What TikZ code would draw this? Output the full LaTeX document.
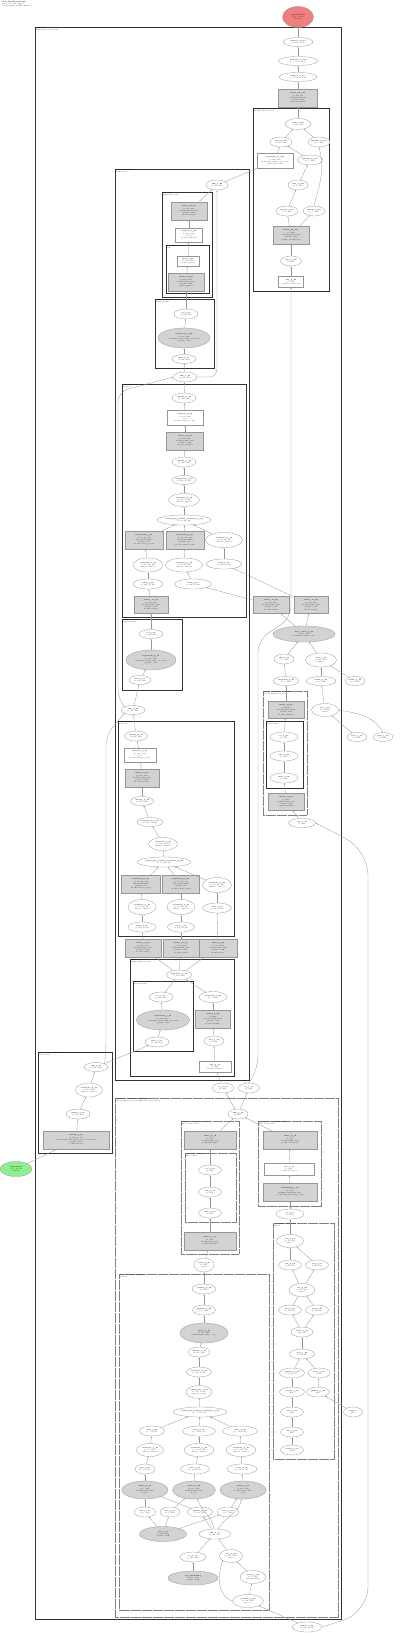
\documentclass[tikz,border=0pt]{standalone}
\usepackage{tikz}
\usetikzlibrary{shapes.geometric,arrows.meta}
\definecolor{edgegray}{RGB}{150,150,150}
\definecolor{modgray}{RGB}{211,211,211}
\definecolor{outred}{RGB}{240,128,128}
\definecolor{ingreen}{RGB}{144,238,144}
\newcommand{\nf}{\fontsize{1.5}{2.3}\selectfont}
\newcommand{\cf}{\fontsize{1.4}{1.8}\selectfont}

\begin{document}
\begin{tikzpicture}[
    x=1pt, y=-1pt,
    >={Stealth[length=1.5pt,width=1.2pt]},
    el/.style 2 args={ellipse, draw=edgegray, fill=white, line width=0.3pt, inner sep=0pt, align=center, font=\nf, minimum width=#1, minimum height=#2},
    gel/.style 2 args={el={#1}{#2}, fill=modgray},
    gbox/.style 2 args={rectangle, draw=edgegray, fill=modgray, line width=0.3pt, inner sep=0pt, align=center, font=\nf, minimum width=#1, minimum height=#2},
    wbox/.style 2 args={gbox={#1}{#2}, fill=white},
    clus/.style={draw=black!80, line width=0.42pt},
    dclus/.style={draw=black!50, line width=0.35pt, dash pattern=on 0.7pt off 0.4pt},
    clab/.style={anchor=north west, align=left, font=\cf, inner sep=0.6pt},
    arrow/.style={->, draw=edgegray, line width=0.3pt},
    elab/.style={font=\fontsize{1.2}{1.4}\selectfont, inner sep=0pt}
]
    \useasboundingbox (0,0) rectangle (400,1634);
    \node[anchor=north west, align=left, inner sep=0pt, font=\fontsize{1.6}{2.2}\selectfont] (title) at (2,1)
        {\textbf{DiT/TorchViewGraph}\\131 nodes, 154 edges\\total params: 34.6M, depth: 3};

    % Clusters
    \draw[clus, line width=0.7pt] (35,27) rectangle (341,1619);
    \node[clab] (lab_model) at (35,27) {\textbf{model: DiT}\\DiT(depth=2, hidden=768)};
    \draw[clus] (253,108) rectangle (329,291);
    \node[clab] (lab_final) at (253,108) {\textbf{final\_layer: FinalLayer}\\FinalLayer(hidden=768)};
    \draw[clus] (115,169) rectangle (249,1080);
    \node[clab] (lab_blocks) at (115,169) {\textbf{blocks: ModuleList}\\DiTBlock x 2};
    \draw[clus] (162,192) rectangle (212,297);
    \node[clab] (lab_mlp) at (162,192) {\textbf{mlp: Mlp}\\Mlp(hidden=3072)};
    \draw[clus] (166,245) rectangle (209,293);
    \node[clab] (lab_act) at (166,245) {\textbf{act: GELU}\\tanh};
    \draw[clus] (155,299) rectangle (214,368);
    \node[clab] (lab_norm2) at (155,299) {\textbf{norm2: LayerNorm}\\LayerNorm(768)};
    \draw[clus] (122,384) rectangle (246,617);
    \node[clab] (lab_attn1) at (122,384) {\textbf{attn: Attention}\\heads=12};
    \draw[clus] (122,619) rectangle (182,690);
    \node[clab] (lab_norm1) at (122,619) {\textbf{norm1: LayerNorm}\\LayerNorm(768)};
    \draw[clus] (118,721) rectangle (234,936);
    \node[clab] (lab_attn0) at (118,721) {\textbf{attn: Attention}\\heads=12};
    \draw[clus] (130,959) rectangle (234,1076);
    \node[clab] (lab_block0) at (130,959) {\textbf{blocks.0: DiTBlock}\\DiTBlock(hidden=768)};
    \draw[clus] (133,981) rectangle (193,1051);
    \node[clab] (lab_norm0) at (133,981) {\textbf{norm1: LayerNorm}\\LayerNorm(768)};
    \draw[clus] (38,1052) rectangle (112,1153);
    \node[clab] (lab_xemb) at (38,1052) {\textbf{x\_embedder: PatchEmbed}\\patch\_size=2};
    \draw[dclus] (263,691) rectangle (307,815);
    \node[clab] (lab_ada) at (263,691) {\textbf{adaLN\_modulation: Sequential}\\Sequential(SiLU, Linear)};
    \draw[clus, line width=0.38pt] (266,721) rectangle (303,788);
    \node[clab] (lab_silu) at (266,721) {\textbf{0: SiLU}\\inplace=False};
    \draw[dclus] (115,1098) rectangle (338,1617);
    \node[clab] (lab_emb) at (115,1098) {\textbf{embedders: TimestepLabelEmbedder}\\TimestepEmbedder + LabelEmbedder (dropout=0.1)};
    \draw[dclus] (181,1121) rectangle (239,1254);
    \node[clab] (lab_tmlp) at (181,1121) {\textbf{t\_embedder.mlp: Sequential}\\Linear, SiLU, Linear};
    \draw[dclus] (185,1153) rectangle (236,1222);
    \node[clab] (lab_tsilu) at (185,1153) {\textbf{t\_embedder.mlp.1: SiLU}\\inplace=False};
    \draw[dclus] (258,1121) rectangle (321,1206);
    \node[clab] (lab_yemb) at (258,1121) {\textbf{y\_embedder: LabelEmbedder}\\num\_classes=1000};
    \draw[dclus] (119,1274) rectangle (269,1610);
    \node[clab] (lab_pool) at (119,1274) {\textbf{pos\_attn: AttentionPool}\\heads=8};
    \draw[dclus] (273,1223) rectangle (334,1459);
    \node[clab] (lab_rope) at (273,1223) {\textbf{rope: RotaryEmbedding}\\dim=96};

    % Output head
    \node[gel={31}{21}, fill=outred] (out) at (298,17) {\textbf{output-tensor}\\(1, 4, 32, 32)\\float32};
    \node[el={30}{9}] (n_resh1) at (298,42) {\textbf{reshape\_4\_113}\\(1, 4, 16, 16, 2)};
    \node[el={39}{9}] (n_view1) at (298,61) {\textbf{permute\_1\_112}\\(1, 4, 16, 2, 16, 2)};
    \node[el={38}{9}] (n_resh2) at (298,77) {\textbf{reshape\_3\_111}\\(1, 16, 16, 2, 2, 4)};
    \node[gbox={39}{18}] (n_lin1) at (298,98) {\textbf{linear\_22\_110}\\(1, 256, 16)\\nn.Linear(768, 16)\\params: 12K\\final\_layer.linear};
    \node[el={26}{11}] (n_add1) at (298,124) {\textbf{add\_5\_109}\\(1, 256, 768)};
    \node[el={22}{10}] (n_mul1) at (281,142) {\textbf{mul\_8\_108}\\(1, 256, 768)};
    \node[el={22}{10}] (n_get1) at (319,142) {\textbf{getitem\_9\_107}\\(1, 1, 768)};
    \node[wbox={36}{15}] (n_ln1) at (275,161) {\textbf{layernorm\_8\_106}\\(1, 256, 768)\\nn.LayerNorm(768, eps=1e-06)\\final\_layer.norm};
    \node[el={25}{10}] (n_get2) at (310,160) {\textbf{getitem\_8\_105}\\(1, 1, 768)};
    \node[el={20}{10}] (n_mul2) at (298,185) {\textbf{add\_4\_104}\\(1, 1, 768)};
    \node[el={22}{10}] (n_chk1) at (287,211) {\textbf{chunk\_2\_103}\\(1, 1, 768)};
    \node[el={22}{10}] (n_chk2) at (314,211) {\textbf{chunk\_2\_102}\\(1, 1, 768)};
    \node[gbox={36}{18}] (n_lin2) at (291,235) {\textbf{linear\_21\_101}\\(1, 1536)\\nn.Linear(768, 1536)\\params: 1.2M\\adaLN\_modulation.1};
    \node[el={21}{10}] (n_to1) at (291,261) {\textbf{silu\_5\_100}\\(1, 768)};
    \node[wbox={25}{11}] (n_in1) at (291,282) {\textbf{silu\_4\_99}\\(1, 768)\\adaLN\_modulation.0};

    % Block 1: mlp and norm2
    \node[el={22}{10}] (n_add2) at (217,185) {\textbf{add\_3\_98}\\(1, 256, 768)};
    \node[gbox={36}{18}] (n_lin3) at (189,211) {\textbf{linear\_20\_97}\\(1, 256, 768)\\nn.Linear(3072, 768)\\params: 2.4M\\blocks.1.mlp.fc2};
    \node[wbox={27}{14}] (n_drop1) at (189,235) {\textbf{dropout\_5\_96}\\(1, 256, 3072)\\p=0.0\\blocks.1.mlp.drop};
    \node[wbox={22}{10}] (n_gelu) at (188,261) {\textbf{gelu\_1\_95}\\(1, 256, 3072)\\blocks.1.mlp.act};
    \node[gbox={36}{18}] (n_lin4) at (186,282) {\textbf{linear\_19\_94}\\(1, 256, 3072)\\nn.Linear(768, 3072)\\params: 2.4M\\blocks.1.mlp.fc1};
    \node[el={24}{10}] (n_to2) at (186,314) {\textbf{to\_6\_93}\\(1, 256, 768)};
    \node[gel={52}{20}] (n_ln2) at (184,338) {\textbf{layernorm\_7\_92}\\(1, 256, 768)\\normalized\_shape=768, eps=1e-06\\params: 1.5K};
    \node[el={24}{9}] (n_fl2) at (184,359) {\textbf{float\_6\_91}\\(1, 256, 768)};
    \node[el={24}{10}] (n_add3) at (185,377) {\textbf{add\_2\_90}\\(1, 256, 768)};

    % Block 1: attention
    \node[el={24}{10}] (n_resh3) at (184,398) {\textbf{reshape\_2\_89}\\(1, 256, 768)};
    \node[wbox={36}{15}] (n_drop2) at (185,418) {\textbf{dropout\_4\_88}\\(1, 256, 768)\\p=0.0\\blocks.1.attn.proj\_drop};
    \node[gbox={37}{18}] (n_lin5) at (185,441) {\textbf{linear\_18\_87}\\(1, 256, 768)\\nn.Linear(768, 768)\\params: 590K\\blocks.1.attn.proj};
    \node[el={24}{10}] (n_resh4) at (184,462) {\textbf{reshape\_1\_86}\\(1, 256, 768)};
    \node[el={24}{9}] (n_view2) at (184,480) {\textbf{contiguous\_1\_85}\\(1, 256, 12, 64)};
    \node[el={31}{13}] (n_trans1) at (184,500) {\textbf{transpose\_4\_84}\\(1, 256, 12, 64)\\dim0=1, dim1=2};
    \node[el={52}{10}] (n_sdpa1) at (184,520) {\textbf{scaled\_dot\_product\_attention\_1\_83}\\(1, 12, 256, 64)};
    \node[gbox={38}{18}] (n_view3) at (144,540) {\textbf{layernorm\_6\_82}\\(1, 12, 256, 64)\\nn.LayerNorm(64)\\params: 128\\blocks.1.attn.q\_norm};
    \node[gbox={38}{18}] (n_view4) at (185,540) {\textbf{layernorm\_5\_81}\\(1, 12, 256, 64)\\nn.LayerNorm(64)\\params: 128\\blocks.1.attn.k\_norm};
    \node[el={37}{15}] (n_tr2) at (224,540) {\textbf{transpose\_3\_80}\\(1, 12, 256, 64)\\dim0=1, dim1=2};
    \node[el={30}{14}] (n_tr3) at (148,565) {\textbf{transpose\_2\_79}\\(1, 12, 256, 64)\\dim0=1, dim1=2};
    \node[el={37}{14}] (n_tr4) at (184,565) {\textbf{transpose\_1\_78}\\(1, 12, 256, 64)\\dim0=1, dim1=2};
    \node[el={36}{10}] (n_view5) at (224,564) {\textbf{view\_6\_77}\\(1, 256, 12, 64)};
    \node[el={30}{10}] (n_view6) at (148,584) {\textbf{view\_5\_76}\\(1, 256, 12, 64)};
    \node[el={37}{10}] (n_view7) at (193,584) {\textbf{view\_4\_75}\\(1, 256, 12, 64)};
    \node[gbox={34}{17}] (n_lin6) at (151,605) {\textbf{linear\_17\_74}\\(1, 256, 768)\\nn.Linear(768, 768)\\params: 590K\\blocks.1.attn.q};
    \node[elab] (lk1) at (176,526) {key};
    \node[elab] (lv1) at (194,526) {value};

    % Block 1: norm1
    \node[el={24}{9}] (n_to3) at (151,634) {\textbf{to\_5\_73}\\(1, 256, 768)};
    \node[gel={50}{20}] (n_ln3) at (151,660) {\textbf{layernorm\_4\_72}\\(1, 256, 768)\\normalized\_shape=768, eps=1e-06\\params: 1.5K};
    \node[el={22}{9}] (n_fl3) at (140,680) {\textbf{float\_5\_71}\\(1, 256, 768)};
    \node[el={24}{9}] (n_add4) at (133,710) {\textbf{add\_1\_70}\\(1, 256, 768)};

    % Block 1: key, value and modulation
    \node[gbox={36}{17}] (n_lin22) at (271,605) {\textbf{linear\_16\_69}\\(1, 256, 768)\\nn.Linear(768, 768)\\params: 590K\\blocks.1.attn.k};
    \node[gbox={34}{17}] (n_lin23) at (311,605) {\textbf{linear\_15\_68}\\(1, 256, 768)\\nn.Linear(768, 768)\\params: 590K\\blocks.1.attn.v};
    \node[gel={62}{16}] (n_emb2) at (304,634) {\textbf{layer\_norm\_3\_67}\\(1, 256, 768)\\modulate(x, shift, scale)};
    \node[elab] (le1) at (297,644) {1};
    \node[elab] (le2) at (309,644) {0};
    \node[el={20}{10}] (n_float9) at (284,659) {\textbf{add\_9\_66}\\(1, 1, 768)};
    \node[el={31}{14}] (n_cat6) at (321,660) {\textbf{mul\_7\_65}\\(1, 256, 768)\\alpha=1};
    \node[el={26}{9}] (n_unsq2) at (286,681) {\textbf{unsqueeze\_3\_64}\\(1, 1, 768)};
    \node[el={30}{9}] (n_view22) at (321,681) {\textbf{chunk\_1\_63}\\(1, 1, 768)};
    \node[el={20}{9}] (n_sinA) at (355,681) {\textbf{chunk\_1\_62}\\(1, 1, 768)};
    \node[el={27}{13}] (n_cat7) at (325,710) {\textbf{cat\_1\_61}\\(1, 1, 4608)\\dim=1};
    \node[el={20}{9}] (n_a) at (357,737) {\textbf{split\_1\_60}\\(1, 768)};
    \node[el={20}{9}] (n_b) at (383,737) {\textbf{split\_1\_59}\\(1, 768)};
    \node[gbox={36}{17}] (n_lin20) at (286,710) {\textbf{linear\_14\_58}\\(1, 4608)\\nn.Linear(768, 4608)\\params: 3.5M\\blocks.1.adaLN.1};
    \node[el={28}{10}] (n_to11) at (284,737) {\textbf{to\_4\_57}\\(1, 768)};
    \node[el={28}{10}] (n_silu3) at (284,756) {\textbf{silu\_3\_56}\\(1, 768)};
    \node[el={28}{10}] (n_fl8) at (284,778) {\textbf{float\_4\_55}\\(1, 768)};
    \node[gbox={36}{17}] (n_lin21) at (286,802) {\textbf{linear\_13\_54}\\(1, 768)\\nn.Linear(256, 768)\\params: 197K\\t\_embedder.mlp.2};
    \node[el={27}{9}] (n_slice) at (302,823) {\textbf{silu\_2\_53}\\(1, 768)};

    % Block 0: attention
    \node[el={23}{10}] (n_resh5) at (136,736) {\textbf{reshape\_0\_52}\\(1, 256, 768)};
    \node[wbox={32}{14}] (n_drop3) at (140,755) {\textbf{dropout\_3\_51}\\(1, 256, 768)\\p=0.0\\blocks.0.attn.proj\_drop};
    \node[gbox={34}{18}] (n_lin7) at (142,778) {\textbf{linear\_12\_50}\\(1, 256, 768)\\nn.Linear(768, 768)\\params: 590K\\blocks.0.attn.proj};
    \node[el={23}{9}] (n_resh6) at (142,801) {\textbf{reshape\_0\_49}\\(1, 256, 768)};
    \node[el={26}{9}] (n_view8) at (150,822) {\textbf{contiguous\_0\_48}\\(1, 256, 12, 64)};
    \node[el={29}{13}] (n_tr5) at (163,844) {\textbf{transpose\_0\_47}\\(1, 256, 12, 64)\\dim0=1, dim1=2};
    \node[el={52}{10}] (n_sdpa2) at (164,862) {\textbf{scaled\_dot\_product\_attention\_0\_46}\\(1, 12, 256, 64)};
    \node[gbox={39}{18}] (n_tr6) at (141,884) {\textbf{layernorm\_3\_45}\\(1, 12, 256, 64)\\nn.LayerNorm(64)\\params: 128\\blocks.0.attn.q\_norm};
    \node[gbox={37}{18}] (n_tr7) at (181,884) {\textbf{layernorm\_2\_44}\\(1, 12, 256, 64)\\nn.LayerNorm(64)\\params: 128\\blocks.0.attn.k\_norm};
    \node[el={29}{15}] (n_tr8) at (217,885) {\textbf{transpose\_0\_43}\\(1, 12, 256, 64)\\dim0=1, dim1=2};
    \node[el={28}{15}] (n_view9) at (142,907) {\textbf{transpose\_0\_42}\\(1, 12, 256, 64)\\dim0=1, dim1=2};
    \node[el={28}{15}] (n_view10) at (181,907) {\textbf{transpose\_0\_41}\\(1, 12, 256, 64)\\dim0=1, dim1=2};
    \node[el={29}{10}] (n_view11) at (217,908) {\textbf{view\_3\_40}\\(1, 256, 12, 64)};
    \node[el={28}{10}] (n_view12) at (142,927) {\textbf{view\_2\_39}\\(1, 256, 12, 64)};
    \node[el={27}{10}] (n_view13) at (181,927) {\textbf{view\_1\_38}\\(1, 256, 12, 64)};
    \node[gbox={36}{18}] (n_lin8) at (143,948) {\textbf{linear\_11\_37}\\(1, 256, 768)\\nn.Linear(768, 768)\\params: 590K\\blocks.0.attn.q};
    \node[gbox={36}{18}] (n_lin9) at (181,948) {\textbf{linear\_10\_36}\\(1, 256, 768)\\nn.Linear(768, 768)\\params: 590K\\blocks.0.attn.k};
    \node[gbox={38}{18}] (n_lin10) at (218,948) {\textbf{linear\_9\_35}\\(1, 256, 768)\\nn.Linear(768, 768)\\params: 590K\\blocks.0.attn.v};
    \node[elab] (lk2) at (157,868) {key};
    \node[elab] (lv2) at (177,868) {value};

    % Block 0: norm1 and modulation
    \node[el={25}{10}] (n_add5) at (179,975) {\textbf{modulate\_0\_34}\\(1, 256, 768)};
    \node[el={24}{10}] (n_to4) at (161,997) {\textbf{to\_3\_33}\\(1, 256, 768)};
    \node[gel={53}{20}] (n_ln4) at (163,1020) {\textbf{layernorm\_1\_32}\\(1, 256, 768)\\normalized\_shape=768, eps=1e-06\\params: 1.5K};
    \node[el={24}{10}] (n_fl4) at (157,1042) {\textbf{float\_3\_31}\\(1, 256, 768)};
    \node[el={28}{11}] (n_perm) at (213,997) {\textbf{unsqueeze\_2\_30}\\(1, 1, 4608)};
    \node[gbox={35}{18}] (n_lin11) at (213,1019) {\textbf{linear\_8\_29}\\(1, 4608)\\nn.Linear(768, 4608)\\params: 3.5M\\blocks.0.adaLN.1};
    \node[el={20}{10}] (n_to5) at (214,1041) {\textbf{silu\_1\_28}\\(1, 768)};
    \node[wbox={32}{11}] (n_add6) at (215,1067) {\textbf{silu\_0\_27}\\(1, 768)\\blocks.0.adaLN.0};

    % Patch embedding
    \node[el={24}{9}] (n_to6) at (96,1067) {\textbf{add\_0\_26}\\(1, 256, 768)};
    \node[el={27}{14}] (n_tr9) at (89,1090) {\textbf{transpose\_0\_25}\\(1, 256, 768)\\dim0=1, dim1=2};
    \node[el={24}{10}] (n_flat) at (78,1114) {\textbf{flatten\_0\_24}\\(1, 768, 256)};
    \node[gbox={66}{18}] (n_conv) at (76,1140) {\textbf{conv2d\_0\_23}\\(1, 768, 16, 16)\\nn.Conv2d(4, 768, kernel\_size=2, stride=2)\\params: 13K\\x\_embedder.proj};
    \node[gel={32}{15}, fill=ingreen] (n_in) at (16,1169) {\textbf{input-tensor}\\(1, 4, 32, 32)\\float32};

    % Conditioning embedders
    \node[el={22}{10}] (n_to7) at (223,1088) {\textbf{to\_2\_22}\\(1, 768)};
    \node[el={21}{10}] (n_to8) at (249,1088) {\textbf{to\_1\_21}\\(1, 768)};
    \node[el={20}{10}] (n_add7) at (238,1114) {\textbf{add\_0\_20}\\(1, 768)};
    \node[gbox={52}{18}] (n_lin12) at (210,1140) {\textbf{linear\_7\_19}\\(1, 768)\\nn.Linear(768, 768)\\t\_embedder.mlp.2};
    \node[el={23}{10}] (n_to9) at (210,1170) {\textbf{to\_0\_18}\\(1, 768)};
    \node[el={23}{10}] (n_silu) at (210,1192) {\textbf{silu\_0\_17}\\(1, 768)};
    \node[el={23}{10}] (n_fl5) at (210,1213) {\textbf{float\_2\_16}\\(1, 768)};
    \node[gbox={52}{18}] (n_lin13) at (210,1241) {\textbf{linear\_6\_15}\\(1, 768)\\nn.Linear(256, 768)\\t\_embedder.mlp.0};
    \node[gbox={54}{18}] (n_lin14) at (290,1140) {\textbf{linear\_5\_14}\\(1, 768)\\nn.Linear(768, 768)\\y\_embedder.proj.2};
    \node[wbox={50}{12}] (n_silu2) at (289,1169) {\textbf{silu\_1\_13}\\(1, 768)\\y\_embedder.proj.1};
    \node[gbox={54}{18}] (n_lin15) at (290,1192) {\textbf{embedding\_0\_12}\\(1, 768)\\nn.Embedding(1001, 768)\\y\_embedder.embedding\_table};
    \node[el={28}{10}] (n_to10) at (290,1214) {\textbf{to\_0\_11}\\(1, 1000)};

    % Attention pool
    \node[el={20}{14}] (n_cat1) at (204,1265) {\textbf{mean\_0\_96}\\(1, 768)\\dim=1};
    \node[el={24}{10}] (n_unsq) at (204,1289) {\textbf{squeeze\_0\_95}\\(1, 768)};
    \node[el={23}{10}] (n_view14) at (204,1310) {\textbf{getitem\_5\_94}\\(1, 1, 768)};
    \node[gel={48}{20}] (n_lin16) at (204,1333) {\textbf{linear\_4\_93}\\(1, 257, 768)\\nn.Linear(768, 768), c\_proj};
    \node[el={22}{10}] (n_view15) at (199,1352) {\textbf{reshape\_1\_92}\\(1, 257, 768)};
    \node[el={25}{10}] (n_tr10) at (199,1372) {\textbf{transpose\_3\_91}\\(1, 257, 8, 96)};
    \node[el={26}{13}] (n_perm2) at (199,1392) {\textbf{contiguous\_1\_90}\\(1, 257, 8, 96)\\memory\_format};
    \node[el={50}{10}] (n_sdpa3) at (200,1412) {\textbf{scaled\_dot\_product\_attention\_2\_89}\\(1, 8, 257, 96)};
    \node[el={25}{10}] (n_view16) at (152,1431) {\textbf{view\_9\_88}\\(1, 8, 1, 96)};
    \node[el={33}{10}] (n_view17) at (199,1431) {\textbf{view\_8\_87}\\(1, 8, 257, 96)};
    \node[el={35}{10}] (n_view18) at (240,1431) {\textbf{view\_7\_86}\\(1, 8, 257, 96)};
    \node[el={27}{13}] (n_tr11) at (150,1450) {\textbf{transpose\_2\_85}\\(1, 8, 1, 96)\\dim0=1, dim1=2};
    \node[el={30}{13}] (n_tr12) at (199,1450) {\textbf{transpose\_1\_84}\\(1, 8, 257, 96)\\dim0=1, dim1=2};
    \node[el={30}{13}] (n_tr13) at (241,1450) {\textbf{transpose\_0\_83}\\(1, 8, 257, 96)\\dim0=1, dim1=2};
    \node[el={20}{10}] (n_view19) at (145,1469) {\textbf{view\_6\_82}\\(1, 1, 8, 96)};
    \node[el={29}{10}] (n_view20) at (195,1469) {\textbf{view\_5\_81}\\(1, 257, 8, 96)};
    \node[el={30}{10}] (n_view21) at (242,1469) {\textbf{view\_4\_80}\\(1, 257, 8, 96)};
    \node[gel={46}{18}] (n_lin17) at (145,1490) {\textbf{linear\_3\_79}\\(1, 1, 768)\\nn.Linear(768, 768)\\q\_proj};
    \node[gel={43}{18}] (n_lin18) at (194,1490) {\textbf{linear\_2\_78}\\(1, 257, 768)\\nn.Linear(768, 768)\\k\_proj};
    \node[gel={46}{18}] (n_lin19) at (243,1490) {\textbf{linear\_1\_77}\\(1, 257, 768)\\nn.Linear(768, 768)\\v\_proj};
    \node[el={22}{10}] (n_chunk1) at (145,1512) {\textbf{slice\_1\_76}\\(1, 1, 768)};
    \node[el={20}{10}] (n_chunk2) at (170,1512) {\textbf{slice\_0\_75}\\(1, 1, 768)};
    \node[el={25}{10}] (n_getA) at (200,1512) {\textbf{getitem\_4\_74}\\(1, 257, 768)};
    \node[el={22}{10}] (n_chunk3) at (228,1512) {\textbf{slice\_2\_73}\\(1, 1, 768)};
    \node[gel={47}{15}] (n_cat2) at (163,1534) {\textbf{cat\_3\_72}\\(1, 257, 768)\\params: 197K};
    \node[el={32}{10}] (n_add8) at (215,1534) {\textbf{add\_5\_71}\\(1, 257, 768)};
    \node[el={26}{10}] (n_mul3) at (193,1557) {\textbf{to\_1\_70}\\(1, 257, 768)};
    \node[el={23}{13}] (n_cat3) at (231,1556) {\textbf{cat\_2\_69}\\(1, 257, 768)\\dim=1};
    \node[gel={50}{14}] (n_emb) at (193,1578) {\textbf{pos\_embedding}\\(1, 257, 768)\\params: 197K};
    \node[el={26}{13}] (n_mean) at (253,1577) {\textbf{mean\_1\_68}\\(1, 1, 768)\\keepdim=True};
    \node[el={31}{13}] (n_perm3) at (248,1601) {\textbf{permute\_0\_67}\\(1, 256, 768)\\(0, 2, 1)};
    \node[el={30}{10}] (n_grid) at (307,1627) {\textbf{flatten\_1\_66}\\(1, 768, 16, 16)};
    \node[elab] (lq3) at (186,1418) {q};
    \node[elab] (lk3) at (200,1418) {key};
    \node[elab] (lv3) at (212,1418) {value};

    % Rotary embedding
    \node[el={27}{13}] (n_cat4) at (290,1241) {\textbf{cat\_1\_65}\\(1, 257, 96)\\dim=-1};
    \node[el={23}{10}] (n_get3) at (290,1265) {\textbf{cos\_0\_64}\\(1, 257, 48)};
    \node[el={23}{10}] (n_get4) at (317,1265) {\textbf{sin\_0\_63}\\(1, 257, 48)};
    \node[el={26}{13}] (n_cat5) at (302,1290) {\textbf{cat\_0\_62}\\(1, 257, 48)\\dim=-1};
    \node[el={23}{10}] (n_cos) at (290,1310) {\textbf{mul\_3\_61}\\(1, 257, 24)};
    \node[el={23}{10}] (n_sin) at (317,1310) {\textbf{mul\_2\_60}\\(1, 257, 24)};
    \node[el={22}{10}] (n_outer) at (302,1332) {\textbf{outer\_0\_59}\\(257, 24)};
    \node[el={25}{10}] (n_mul4) at (302,1354) {\textbf{mul\_1\_58}\\(1, 257, 24)};
    \node[el={25}{10}] (n_fl6) at (292,1373) {\textbf{getitem\_2\_57}\\(1, 257, 1)};
    \node[el={22}{10}] (n_fl7) at (319,1373) {\textbf{float\_1\_56}\\(1, 24)};
    \node[el={25}{10}] (n_get5) at (292,1392) {\textbf{arange\_1\_55}\\(257,)};
    \node[el={23}{10}] (n_get6) at (318,1392) {\textbf{getitem\_1\_54}\\(24,)};
    \node[el={23}{10}] (n_exp) at (292,1412) {\textbf{exp\_0\_53}\\(24,)};
    \node[el={23}{10}] (n_div) at (292,1432) {\textbf{div\_0\_52}\\(24,)};
    \node[el={23}{10}] (n_arange) at (292,1450) {\textbf{arange\_0\_51}\\(24,)};
    \node[el={19}{10}] (n_pos) at (353,1412) {\textbf{freqs\_0}\\(24,)};

    % Output head path
    \draw[arrow] (n_resh1) -- (out);
    \draw[arrow] (n_view1) -- (n_resh1);
    \draw[arrow] (n_resh2) -- (n_view1);
    \draw[arrow] (n_lin1) -- (n_resh2);
    \draw[arrow] (n_add1) -- (n_lin1);
    \draw[arrow] (n_mul1) -- (n_add1);
    \draw[arrow] (n_get1) -- (n_add1);
    \draw[arrow] (n_ln1) -- (n_mul1);
    \draw[arrow] (n_get2) -- (n_mul1);
    \draw[arrow] (n_mul2) -- (n_get2);
    \draw[arrow] (n_chk1) -- (n_mul2);
    \draw[arrow] (n_chk2.north) to[out=75,in=-75] (n_get1.south);
    \draw[arrow] (n_lin2) -- (n_chk1);
    \draw[arrow] (n_lin2) -- (n_chk2);
    \draw[arrow] (n_to1) -- (n_lin2);
    \draw[arrow] (n_in1) -- (n_to1);
    \draw[arrow] (n_add2) -- (n_ln1);

    % Block 1 path
    \draw[arrow] (n_lin3) -- (n_add2);
    \draw[arrow] (n_drop1) -- (n_lin3);
    \draw[arrow] (n_gelu) -- (n_drop1);
    \draw[arrow] (n_lin4) -- (n_gelu);
    \draw[arrow] (n_to2) -- (n_lin4);
    \draw[arrow] (n_ln2) -- (n_to2);
    \draw[arrow] (n_fl2) -- (n_ln2);
    \draw[arrow] (n_add3) -- (n_fl2);
    \draw[arrow, rounded corners=8pt] (n_add3.east) -| (n_add2.south);
    \draw[arrow] (n_resh3) -- (n_add3);
    \draw[arrow] (n_drop2) -- (n_resh3);
    \draw[arrow] (n_lin5) -- (n_drop2);
    \draw[arrow] (n_resh4) -- (n_lin5);
    \draw[arrow] (n_view2) -- (n_resh4);
    \draw[arrow] (n_trans1) -- (n_view2);
    \draw[arrow] (n_sdpa1) -- (n_trans1);
    \draw[arrow] (n_view3) -- (n_sdpa1);
    \draw[arrow] (n_view4) -- (n_sdpa1);
    \draw[arrow] (n_tr2) -- (n_sdpa1);
    \draw[arrow] (n_tr3) -- (n_view3);
    \draw[arrow] (n_tr4) -- (n_view4);
    \draw[arrow] (n_view5) -- (n_tr2);
    \draw[arrow] (n_view6) -- (n_tr3);
    \draw[arrow] (n_view7) -- (n_tr4);
    \draw[arrow] (n_lin6) -- (n_view6);
    \draw[arrow] (n_lin22) -- (n_view7);
    \draw[arrow] (n_lin23) -- (n_view5);
    \draw[arrow] (n_to3) -- (n_lin6);
    \draw[arrow] (n_ln3) -- (n_to3);
    \draw[arrow] (n_fl3) -- (n_ln3);
    \draw[arrow] (n_add4) -- (n_fl3);
    \draw[arrow, rounded corners=10pt] (n_add4.north west) -- (118,700) -- (118,392) -- (n_add3.west);

    % Modulation path
    \draw[arrow] (n_emb2) -- (n_lin22);
    \draw[arrow] (n_emb2) -- (n_lin23);
    \draw[arrow] (n_float9) -- (n_emb2);
    \draw[arrow] (n_cat6) -- (n_emb2);
    \draw[arrow] (n_unsq2) -- (n_float9);
    \draw[arrow] (n_view22) -- (n_cat6);
    \draw[arrow] (n_sinA) -- (n_cat6);
    \draw[arrow] (n_cat7) -- (n_view22);
    \draw[arrow] (n_a) -- (n_cat7);
    \draw[arrow] (n_b.north) to[out=120,in=-10] (n_cat7.east);
    \draw[arrow] (n_lin20) -- (n_unsq2);
    \draw[arrow] (n_to11) -- (n_lin20);
    \draw[arrow] (n_silu3) -- (n_to11);
    \draw[arrow] (n_fl8) -- (n_silu3);
    \draw[arrow] (n_lin21) -- (n_fl8);
    \draw[arrow] (n_slice) -- (n_lin21);

    % Block 0 path
    \draw[arrow] (n_resh5) -- (n_add4);
    \draw[arrow] (n_drop3) -- (n_resh5);
    \draw[arrow] (n_lin7) -- (n_drop3);
    \draw[arrow] (n_resh6) -- (n_lin7);
    \draw[arrow] (n_view8) -- (n_resh6);
    \draw[arrow] (n_tr5) -- (n_view8);
    \draw[arrow] (n_sdpa2) -- (n_tr5);
    \draw[arrow] (n_tr6) -- (n_sdpa2);
    \draw[arrow] (n_tr7) -- (n_sdpa2);
    \draw[arrow] (n_tr8) -- (n_sdpa2);
    \draw[arrow] (n_view9) -- (n_tr6);
    \draw[arrow] (n_view10) -- (n_tr7);
    \draw[arrow] (n_view11) -- (n_tr8);
    \draw[arrow] (n_view12) -- (n_view9);
    \draw[arrow] (n_view13) -- (n_view10);
    \draw[arrow] (n_lin8) -- (n_view12);
    \draw[arrow] (n_lin9) -- (n_view13);
    \draw[arrow] (n_lin10) -- (n_view11);
    \draw[arrow] (n_add5) -- (n_lin8);
    \draw[arrow] (n_add5) -- (n_lin9);
    \draw[arrow] (n_add5) -- (n_lin10);
    \draw[arrow] (n_to4) -- (n_add5);
    \draw[arrow] (n_ln4) -- (n_to4);
    \draw[arrow] (n_fl4) -- (n_ln4);
    \draw[arrow] (n_perm) -- (n_add5);
    \draw[arrow] (n_lin11) -- (n_perm);
    \draw[arrow] (n_to5) -- (n_lin11);
    \draw[arrow] (n_add6) -- (n_to5);
    \draw[arrow] (n_to7) -- (n_add6);

    % Patch embedding path
    \draw[arrow] (n_in) -- (n_conv);
    \draw[arrow] (n_conv) -- (n_flat);
    \draw[arrow] (n_flat) -- (n_tr9);
    \draw[arrow] (n_tr9) -- (n_to6);
    \draw[arrow] (n_to6) -- (n_fl4);
    \draw[arrow, rounded corners=10pt] (n_to6.north east) -- (106,1050) -- (106,735) -- (n_add4.south west);

    % Conditioning path
    \draw[arrow] (n_add7) -- (n_to7);
    \draw[arrow] (n_add7) -- (n_to8);
    \draw[arrow, rounded corners=12pt] (n_to8.north) -- (258,1068) -- (258,640) -- (291,618) -- (n_in1.south);
    \draw[arrow] (n_lin12) -- (n_add7);
    \draw[arrow] (n_lin14) -- (n_add7);
    \draw[arrow] (n_to9) -- (n_lin12);
    \draw[arrow] (n_silu) -- (n_to9);
    \draw[arrow] (n_fl5) -- (n_silu);
    \draw[arrow] (n_lin13) -- (n_fl5);
    \draw[arrow] (n_silu2) -- (n_lin14);
    \draw[arrow] (n_lin15) -- (n_silu2);
    \draw[arrow] (n_to10) -- (n_lin15);
    \draw[arrow] (n_cat4) -- (n_to10);
    \draw[arrow] (n_cat1) -- (n_lin13);

    % Attention pool path
    \draw[arrow] (n_unsq) -- (n_cat1);
    \draw[arrow] (n_view14) -- (n_unsq);
    \draw[arrow] (n_lin16) -- (n_view14);
    \draw[arrow] (n_view15) -- (n_lin16);
    \draw[arrow] (n_tr10) -- (n_view15);
    \draw[arrow] (n_perm2) -- (n_tr10);
    \draw[arrow] (n_sdpa3) -- (n_perm2);
    \draw[arrow] (n_view16) -- (n_sdpa3);
    \draw[arrow] (n_view17) -- (n_sdpa3);
    \draw[arrow] (n_view18) -- (n_sdpa3);
    \draw[arrow] (n_tr11) -- (n_view16);
    \draw[arrow] (n_tr12) -- (n_view17);
    \draw[arrow] (n_tr13) -- (n_view18);
    \draw[arrow] (n_view19) -- (n_tr11);
    \draw[arrow] (n_view20) -- (n_tr12);
    \draw[arrow] (n_view21) -- (n_tr13);
    \draw[arrow] (n_lin17) -- (n_view19);
    \draw[arrow] (n_lin18) -- (n_view20);
    \draw[arrow] (n_lin19) -- (n_view21);
    \draw[arrow] (n_chunk1) -- (n_lin17);
    \draw[arrow] (n_getA) -- (n_lin17);
    \draw[arrow] (n_chunk2) -- (n_lin18);
    \draw[arrow] (n_chunk3) -- (n_lin19);
    \draw[arrow] (n_add8) to[out=100,in=-70] (n_lin18);
    \draw[arrow] (n_add8) to[out=60,in=-100] (n_lin19);
    \draw[arrow] (n_cat2) -- (n_chunk1);
    \draw[arrow] (n_cat2) -- (n_chunk2);
    \draw[arrow] (n_cat2) -- (n_chunk3);
    \draw[arrow] (n_add8) -- (n_getA);
    \draw[arrow] (n_mul3) -- (n_add8);
    \draw[arrow] (n_cat3) -- (n_add8);
    \draw[arrow] (n_emb) -- (n_mul3);
    \draw[arrow] (n_mean) -- (n_cat3);
    \draw[arrow] (n_perm3) -- (n_mean);
    \draw[arrow] (n_perm3.west) to[out=160,in=-110] (n_cat3.south west);
    \draw[arrow] (n_grid) -- (n_perm3);
    \draw[arrow, rounded corners=25pt] (n_grid.east) -- (368,1612) -- (368,850) -- (n_slice.east);

    % Rotary path
    \draw[arrow] (n_get3) -- (n_cat4);
    \draw[arrow] (n_get4) -- (n_cat4);
    \draw[arrow] (n_cat5) -- (n_get3);
    \draw[arrow] (n_cat5) -- (n_get4);
    \draw[arrow] (n_cos) -- (n_cat5);
    \draw[arrow] (n_sin) -- (n_cat5);
    \draw[arrow] (n_outer) -- (n_cos);
    \draw[arrow] (n_outer) -- (n_sin);
    \draw[arrow] (n_mul4) -- (n_outer);
    \draw[arrow] (n_fl6) -- (n_mul4);
    \draw[arrow] (n_fl7) -- (n_mul4);
    \draw[arrow] (n_get5) -- (n_fl6);
    \draw[arrow] (n_get6) -- (n_fl7);
    \draw[arrow] (n_exp) -- (n_get5);
    \draw[arrow] (n_div) -- (n_exp);
    \draw[arrow] (n_arange) -- (n_div);
    \draw[arrow] (n_pos) -- (n_get6);

\end{tikzpicture}
\end{document}
